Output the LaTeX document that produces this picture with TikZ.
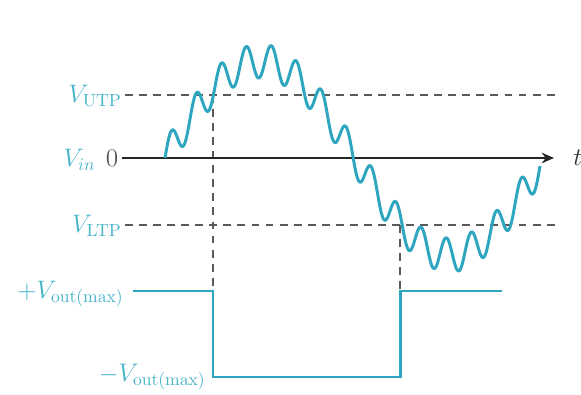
\documentclass[tikz,border=0pt]{standalone}
\usetikzlibrary{arrows.meta}
\definecolor{sig}{HTML}{2FA6C0}
\definecolor{lab}{HTML}{45B3C8}
\definecolor{dgray}{HTML}{5A5A5A}
\tikzset{
  wave/.style={sig, line width=1.7pt, line join=round},
  thresh/.style={dgray, line width=0.9pt, dash pattern=on 4.5pt off 3.5pt},
  axisline/.style={black!85, line width=1.1pt, -{Stealth[length=7pt,width=6pt]}},
  lbl/.style={lab, font=\fontsize{14}{16}\selectfont, inner sep=0pt},
}
\begin{document}
\begin{tikzpicture}[x=0.02cm, y=-0.02cm]
\useasboundingbox (0,0) rectangle (581,395);
% threshold lines
\coordinate (utpL) at (125,95);
\coordinate (utpR) at (556,95);
\coordinate (ltpL) at (125,225);
\coordinate (ltpR) at (556,225);
\draw[thresh] (utpL) -- (utpR);
\draw[thresh] (ltpL) -- (ltpR);
% vertical dashed
\coordinate (v1t) at (213,95);
\coordinate (v1b) at (213,291);
\coordinate (v2t) at (400,225);
\coordinate (v2b) at (400,291);
\draw[thresh] (v1t) -- (v1b);
\draw[thresh] (v2t) -- (v2b);
% axis
\coordinate (ax0) at (122,158);
\coordinate (ax1) at (554,158);
\draw[axisline] (ax0) -- (ax1);
% input signal
\draw[wave, samples=500, domain=165:540, smooth]
  plot (\x, {158 - 97*sin((\x-165)/380*360) - 17*sin((\x-165)/25*360)});
% output signal
\coordinate (o1) at (133,291);
\coordinate (o2) at (213,291);
\coordinate (o3) at (213,377);
\coordinate (o4) at (400,377);
\coordinate (o5) at (400,291);
\coordinate (o6) at (502,291);
\draw[wave, line join=miter] (o1) -- (o2) -- (o3) -- (o4) -- (o5) -- (o6);
% labels
\node[lbl, anchor=east] (lutp) at (122,96) {$V_{\mathrm{UTP}}$};
\node[lbl, anchor=east] (lin) at (96,160) {$V_{in}$};
\node[dgray, font=\fontsize{14}{16}\selectfont, inner sep=0pt] (zero) at (112,158) {$0$};
\node[lbl, anchor=east] (lltp) at (122,226) {$V_{\mathrm{LTP}}$};
\node[lbl, anchor=east] (lpos) at (124,294) {$+V_{\mathrm{out(max)}}$};
\node[lbl, anchor=east] (lneg) at (206,377) {$-V_{\mathrm{out(max)}}$};
\node[black!80, font=\fontsize{14}{16}\selectfont, inner sep=0pt, anchor=west] (tl) at (573,158) {$t$};
\end{tikzpicture}
\end{document}
